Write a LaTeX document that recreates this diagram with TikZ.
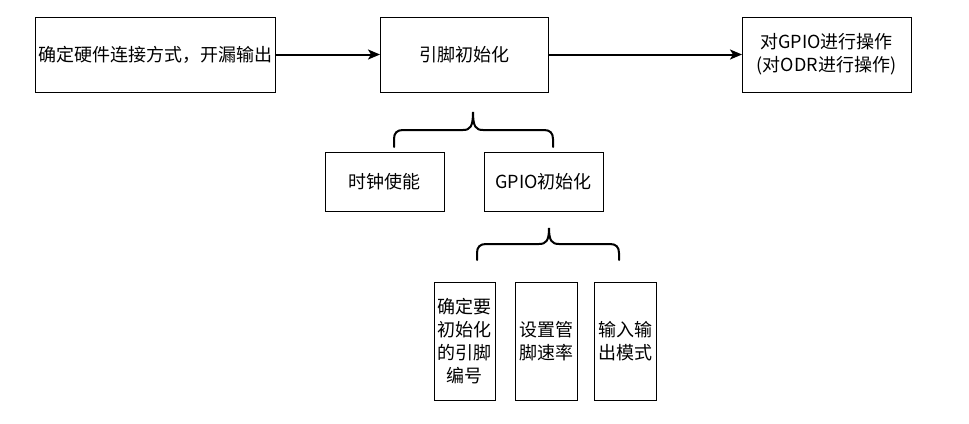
\documentclass[tikz,border=0pt]{standalone}
\usepackage{fontspec}
\setmainfont{Noto Sans CJK SC}
\usetikzlibrary{arrows.meta}
\begin{document}
\begin{tikzpicture}[x=1pt,y=-1pt,
  box/.style={draw, line width=1pt, anchor=north west, inner sep=0pt, outer sep=0pt,
    align=center, font=\fontsize{18}{23}\selectfont},
  arr/.style={line width=2pt, -{Stealth[length=12pt,width=10pt,inset=3pt]}},
  brace/.style={line width=2pt, line cap=round}]
\useasboundingbox (0,0) rectangle (969,423);
\node[box, minimum width=240pt, minimum height=75pt] (hw) at (35,17) {确定硬件连接方式，开漏输出};
\node[box, minimum width=168pt, minimum height=75pt] (pin) at (380,17) {引脚初始化};
\node[box, minimum width=169pt, minimum height=75pt] (op) at (742,17) {对GPIO进行操作\\(对ODR进行操作)};
\node[box, minimum width=119pt, minimum height=59pt] (clk) at (325,152) {时钟使能};
\node[box, minimum width=119pt, minimum height=59pt] (gpio) at (484,152) {GPIO初始化};
\node[box, minimum width=61pt, minimum height=118pt] (num) at (434,282) {确定要\\初始化\\的引脚\\编号};
\node[box, minimum width=62pt, minimum height=118pt] (spd) at (515,282) {设置管\\脚速率};
\node[box, minimum width=62pt, minimum height=118pt] (mode) at (594,282) {输入输\\出模式};
\draw[arr] (hw.east) -- (pin.west);
\draw[arr] (pin.east) -- (op.west);
% brace 1
\draw[brace] (394,147) -- (394,139) .. controls (394,133) and (397,130) .. (403,130)
  -- (463,130) .. controls (470,130) and (473,127) .. (473,112)
  .. controls (473,127) and (476,130) .. (483,130)
  -- (544,130) .. controls (550,130) and (553,133) .. (553,139) -- (553,147);
% brace 2
\draw[brace] (477,260) -- (477,253) .. controls (477,247) and (480,244) .. (486,244)
  -- (539,244) .. controls (546,244) and (549,241) .. (549,228)
  .. controls (549,241) and (552,244) .. (559,244)
  -- (610,244) .. controls (616,244) and (619,247) .. (619,253) -- (619,260);
\end{tikzpicture}
\end{document}
